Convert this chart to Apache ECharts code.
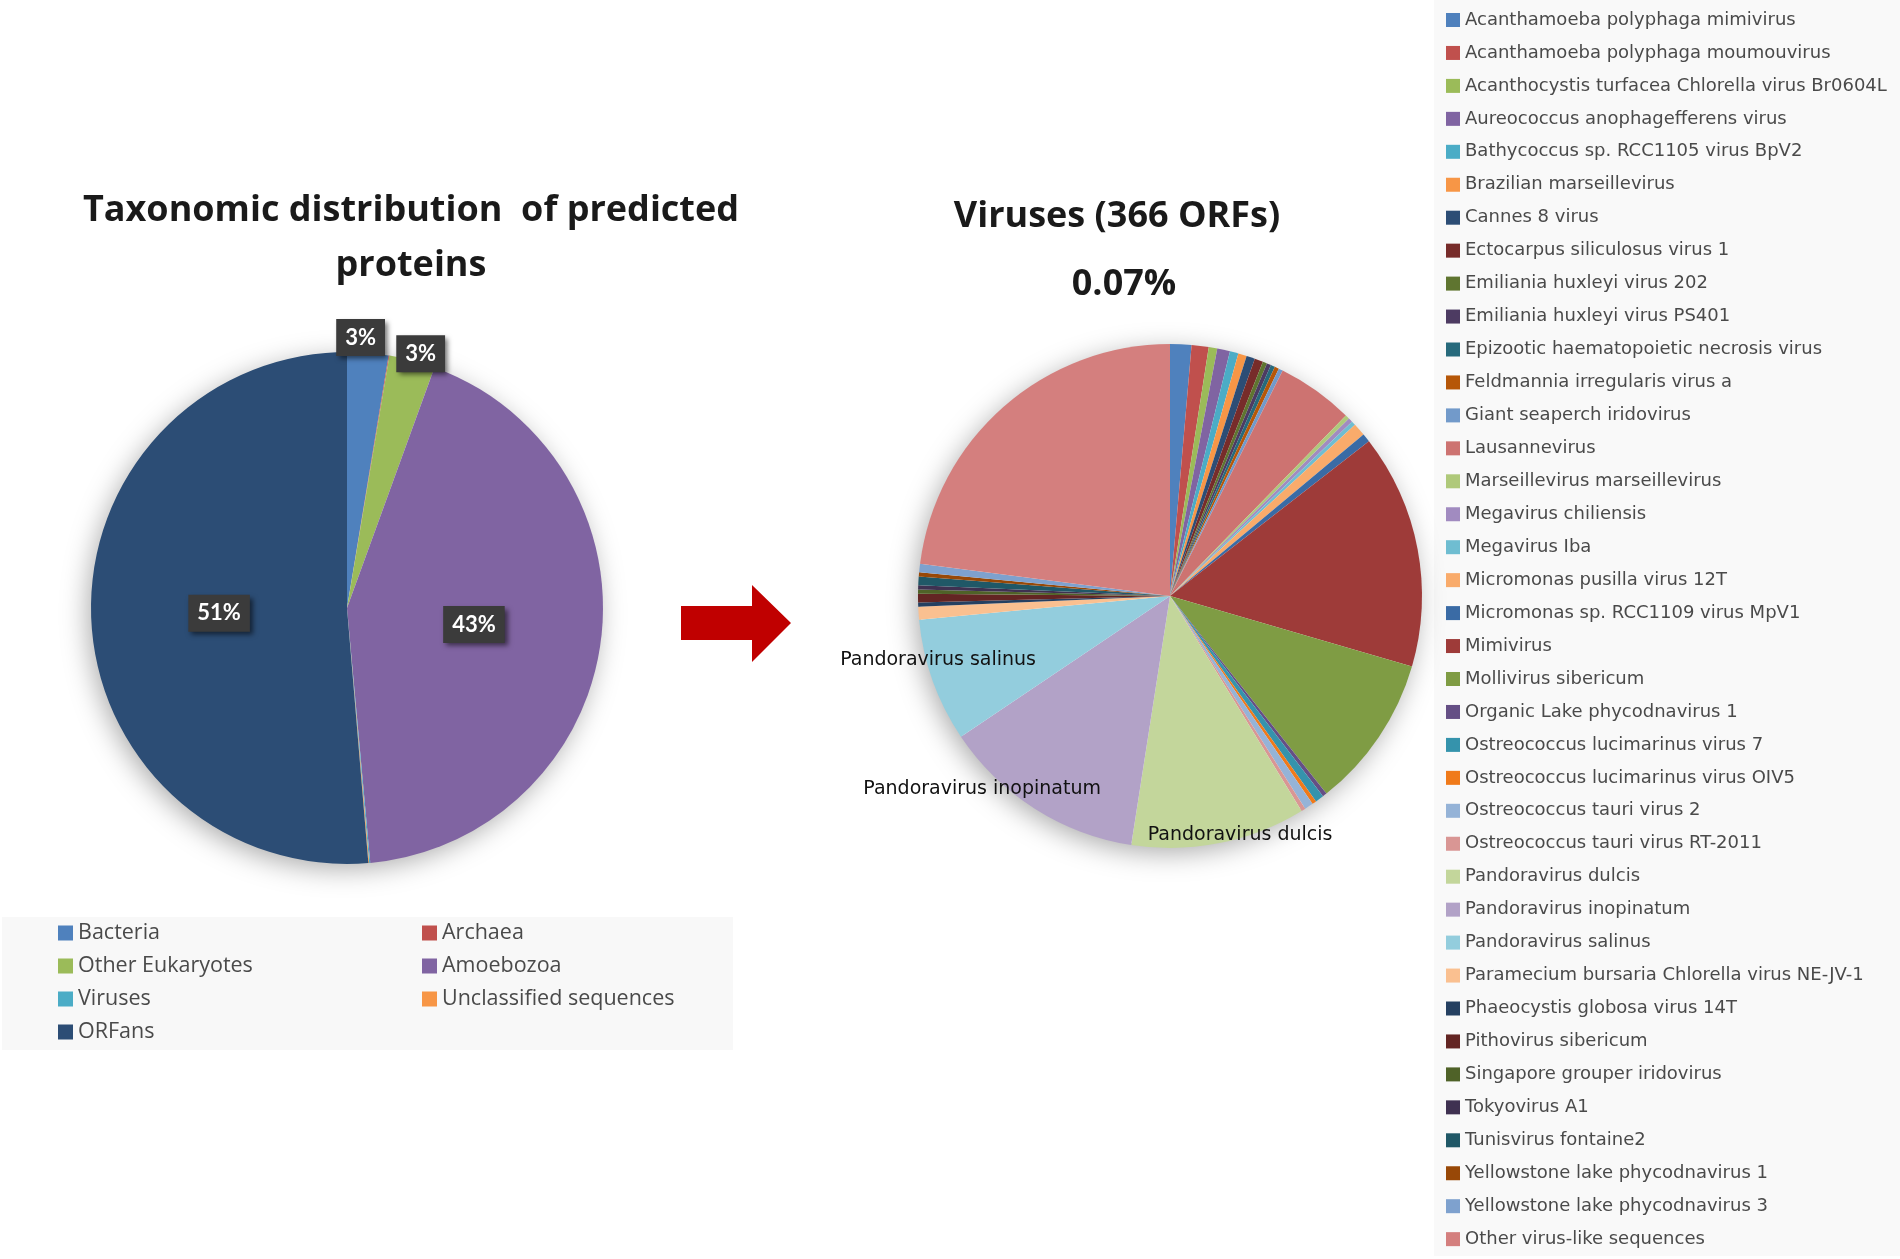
<!DOCTYPE html>
<html>
<head>
<meta charset="utf-8">
<script src="https://cdn.jsdelivr.net/npm/echarts@6/dist/echarts.min.js"></script>
<style>html,body{margin:0;padding:0;background:#fff;}#c{width:1900px;height:1259px;}</style>
</head>
<body>
<div id="c"></div>
<script>
// ---- Data ----
const taxCategories = ['Bacteria','Archaea','Other Eukaryotes','Amoebozoa','Viruses','Unclassified sequences','ORFans'];
const taxPercent = [2.6, 0.05, 2.9, 43.0, 0.07, 0.05, 51.33];
const taxLegendCol1 = ['Bacteria','Other Eukaryotes','Viruses','ORFans'];
const taxLegendCol2 = ['Archaea','Amoebozoa','Unclassified sequences'];

const virusNames = [
  'Acanthamoeba polyphaga mimivirus','Acanthamoeba polyphaga moumouvirus','Acanthocystis turfacea Chlorella virus Br0604L',
  'Aureococcus anophagefferens virus','Bathycoccus sp. RCC1105 virus BpV2','Brazilian marseillevirus','Cannes 8 virus',
  'Ectocarpus siliculosus virus 1','Emiliania huxleyi virus 202','Emiliania huxleyi virus PS401',
  'Epizootic haematopoietic necrosis virus','Feldmannia irregularis virus a','Giant seaperch iridovirus','Lausannevirus',
  'Marseillevirus marseillevirus','Megavirus chiliensis','Megavirus Iba','Micromonas pusilla virus 12T',
  'Micromonas sp. RCC1109 virus MpV1','Mimivirus','Mollivirus sibericum','Organic Lake phycodnavirus 1',
  'Ostreococcus lucimarinus virus 7','Ostreococcus lucimarinus virus OIV5','Ostreococcus tauri virus 2',
  'Ostreococcus tauri virus RT-2011','Pandoravirus dulcis','Pandoravirus inopinatum','Pandoravirus salinus',
  'Paramecium bursaria Chlorella virus NE-JV-1','Phaeocystis globosa virus 14T','Pithovirus sibericum',
  'Singapore grouper iridovirus','Tokyovirus A1','Tunisvirus fontaine2','Yellowstone lake phycodnavirus 1',
  'Yellowstone lake phycodnavirus 3','Other virus-like sequences'
];
const virusORFs = [5,4,2,3,2,2,2,2,1,1,1,1,1,18,1,1,1,3,2,55,36,1,2,1,2,1,41,48,29,3,1,2,1,1,2,1,2,84];

// ---- Styles ----
const taxColors = ['#4F81BD','#C0504D','#9BBB59','#8064A2','#4BACC6','#F79646','#2C4D75'];
const virusColors = ['#4F81BD','#C0504D','#9BBB59','#8064A2','#4BACC6','#F79646','#2C4D75','#772C2A','#5F7530','#4D3B62',
  '#276A7C','#B65708','#729ACA','#CD7371','#AFC97A','#A18BC0','#6FBDD1','#F9AB6B','#3A6BA5','#9E3B39','#7F9C44',
  '#654F85','#3593AC','#F07A1A','#95B3D7','#D99694','#C3D69B','#B2A2C7','#93CDDD','#FAC090','#254061','#632523',
  '#4F6228','#3F3151','#205867','#984807','#7EA1CE','#D47F7E'];

const FONT = 'Lato, "Open Sans", sans-serif';
const TFONT = '"Open Sans", Lato, sans-serif';
const WFONT = '"DejaVu Sans", "Open Sans", sans-serif';
const L = {cx: 347, cy: 608, r: 256};
const R = {cx: 1170, cy: 596, r: 252};
// label placement: [radial fraction, angle shift in degrees]
const taxLabelSpec = {'Bacteria':[1.058,-1.8],'Other Eukaryotes':[1.034,1.4],'Amoebozoa':[0.5,0],'ORFans':[0.5,0]};
const virusLabelSpec = {'Pandoravirus salinus':[0.955,4.2],'Pandoravirus inopinatum':[1.07,11.7],'Pandoravirus dulcis':[0.99,-5]};

function labelPos(values, idx, geo, spec) {
  const total = values.reduce((a,b)=>a+b,0);
  let cum = 0; for (let i=0;i<idx;i++) cum += values[i];
  const a = ((cum + values[idx]/2)/total*360 + spec[1]) * Math.PI/180;
  return {x: geo.cx + spec[0]*geo.r*Math.sin(a), y: geo.cy - spec[0]*geo.r*Math.cos(a)};
}

const virusTotal = virusORFs.reduce((a,b)=>a+b,0);
const virusShare = taxPercent[taxCategories.indexOf('Viruses')];

const chart = echarts.init(document.getElementById('c'));
chart.setOption({
  animation: false,
  backgroundColor: '#ffffff',
  title: [
    {text: 'Taxonomic distribution  of predicted\nproteins', left: 406, top: 178, textAlign: 'center',
     textStyle: {fontFamily: TFONT, fontSize: 36, fontWeight: 'bold', color: '#1a1a1a', lineHeight: 55}},
    {text: 'Viruses (' + virusTotal + ' ORFs)', left: 1112, top: 184, textAlign: 'center',
     textStyle: {fontFamily: TFONT, fontSize: 36, fontWeight: 'bold', color: '#1a1a1a', lineHeight: 55}},
    {text: virusShare.toFixed(2) + '%', left: 1119, top: 252, textAlign: 'center',
     textStyle: {fontFamily: TFONT, fontSize: 36, fontWeight: 'bold', color: '#1a1a1a', lineHeight: 55}}
  ],
  graphic: [
    {type: 'rect', z: -10, shape: {x: 2, y: 917, width: 731, height: 133}, style: {fill: '#f8f8f8'}},
    {type: 'rect', z: -10, shape: {x: 1434, y: 0, width: 466, height: 1256}, style: {fill: '#f9f9f9'}},
    {type: 'circle', z: -5, shape: {cx: L.cx, cy: L.cy, r: L.r - 2},
     style: {fill: '#ffffff', shadowBlur: 28, shadowColor: 'rgba(0,0,0,0.35)', shadowOffsetX: -4, shadowOffsetY: 6}},
    {type: 'circle', z: -5, shape: {cx: R.cx, cy: R.cy, r: R.r - 2},
     style: {fill: '#ffffff', shadowBlur: 28, shadowColor: 'rgba(0,0,0,0.35)', shadowOffsetX: -4, shadowOffsetY: 6}},
    {type: 'polygon', shape: {points: [[681,606],[752,606],[752,585],[791,623],[752,662],[752,640],[681,640]]},
     style: {fill: '#C00000'}}
  ],
  legend: [
    {orient: 'vertical', left: 53, top: 917, itemWidth: 15, itemHeight: 15, itemGap: 11, icon: 'rect',
     selectedMode: false, data: taxLegendCol1, textStyle: {fontFamily: TFONT, fontSize: 21.5, lineHeight: 22, color: '#4a4a4a'}},
    {orient: 'vertical', left: 417, top: 917, itemWidth: 15, itemHeight: 15, itemGap: 11, icon: 'rect',
     selectedMode: false, data: taxLegendCol2, textStyle: {fontFamily: TFONT, fontSize: 21.5, lineHeight: 22, color: '#4a4a4a'}},
    {orient: 'vertical', left: 1441, top: 6, itemWidth: 14, itemHeight: 14, itemGap: 14.95, icon: 'rect',
     selectedMode: false, data: virusNames, textStyle: {fontFamily: WFONT, fontSize: 18, lineHeight: 18, color: '#4a4a4a'}}
  ],
  series: [
    {
      type: 'pie', center: [L.cx, L.cy], radius: L.r, startAngle: 90, clockwise: true,
      avoidLabelOverlap: false, silent: true,
      data: taxCategories.map((n, i) => ({name: n, value: taxPercent[i],
        itemStyle: {color: taxColors[i]}, label: {show: !!taxLabelSpec[n]}})),
      label: {position: 'inside', formatter: p => Math.round(p.value) + '%',
        fontFamily: FONT, fontSize: 22, fontWeight: 'bold', color: '#ffffff',
        backgroundColor: '#3b3b3b', padding: [8, 9, 7, 9],
        shadowBlur: 5, shadowColor: 'rgba(0,0,0,0.55)', shadowOffsetX: 3, shadowOffsetY: 3},
      labelLine: {show: false},
      labelLayout: function (p) {
        const s = taxLabelSpec[taxCategories[p.dataIndex]];
        if (!s) return {};
        const pos = labelPos(taxPercent, p.dataIndex, L, s);
        return {x: pos.x, y: pos.y, align: 'center', verticalAlign: 'middle'};
      }
    },
    {
      type: 'pie', center: [R.cx, R.cy], radius: R.r, startAngle: 90, clockwise: true,
      avoidLabelOverlap: false, silent: true,
      data: virusNames.map((n, i) => ({name: n, value: virusORFs[i],
        itemStyle: {color: virusColors[i]}, label: {show: !!virusLabelSpec[n]}})),
      label: {position: 'inside', formatter: p => p.name, fontFamily: WFONT, fontSize: 19, color: '#111111'},
      labelLine: {show: false},
      labelLayout: function (p) {
        const s = virusLabelSpec[virusNames[p.dataIndex]];
        if (!s) return {};
        const pos = labelPos(virusORFs, p.dataIndex, R, s);
        return {x: pos.x, y: pos.y, align: 'center', verticalAlign: 'middle'};
      }
    }
  ]
});
</script>
</body>
</html>
